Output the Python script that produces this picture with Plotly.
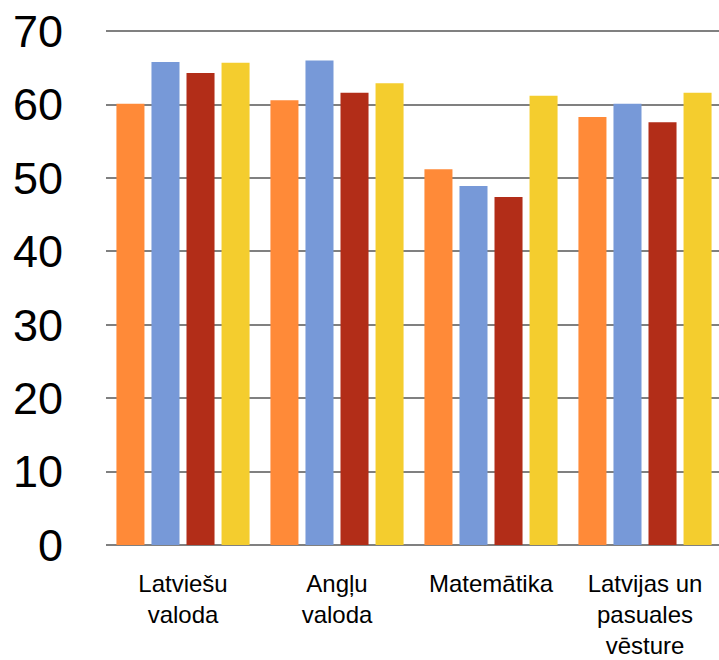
import plotly.graph_objects as go

categories = ["Latviešu<br>valoda", "Angļu<br>valoda", "Matemātika", "Latvijas un<br>pasuales<br>vēsture"]
series_a = [60.1, 60.6, 51.2, 58.3]
series_b = [65.8, 66.0, 48.9, 60.1]
series_c = [64.3, 61.6, 47.4, 57.6]
series_d = [65.7, 62.9, 61.2, 61.6]
colors = ["#FF8A38", "#7799D8", "#B22D18", "#F4CD2E"]
y_ticks = [0, 10, 20, 30, 40, 50, 60, 70]

fig = go.Figure()
for vals, col in zip([series_a, series_b, series_c, series_d], colors):
    fig.add_trace(go.Bar(x=list(range(len(categories))), y=vals, marker=dict(color=col, line=dict(width=0))))

fig.update_layout(
    width=719, height=660,
    margin=dict(l=106, r=0, t=29, b=115),
    barmode="group", bargap=0.09, bargroupgap=0.2,
    showlegend=False,
    plot_bgcolor="white", paper_bgcolor="white",
    font=dict(family="Liberation Sans, Arial", color="black"),
)
fig.update_xaxes(
    tickmode="array", tickvals=list(range(len(categories))), ticktext=categories,
    range=[-0.5, -0.5 + 613 / 154], tickfont=dict(size=24), automargin=False,
    showgrid=False, showline=False, zeroline=False, ticks="", ticklabelstandoff=22,
)
fig.update_yaxes(
    range=[0, 70.3], tickvals=y_ticks, tickfont=dict(size=45), automargin=False,
    showgrid=True, gridcolor="#808080", gridwidth=2,
    zeroline=True, zerolinecolor="#808080", zerolinewidth=2,
    showline=False, ticks="", ticklabelstandoff=42,
)
fig.write_html(
    "out.html",
    config={"displayModeBar": False},
    post_script="document.body.style.margin='0px';document.body.style.overflow='hidden';",
)
